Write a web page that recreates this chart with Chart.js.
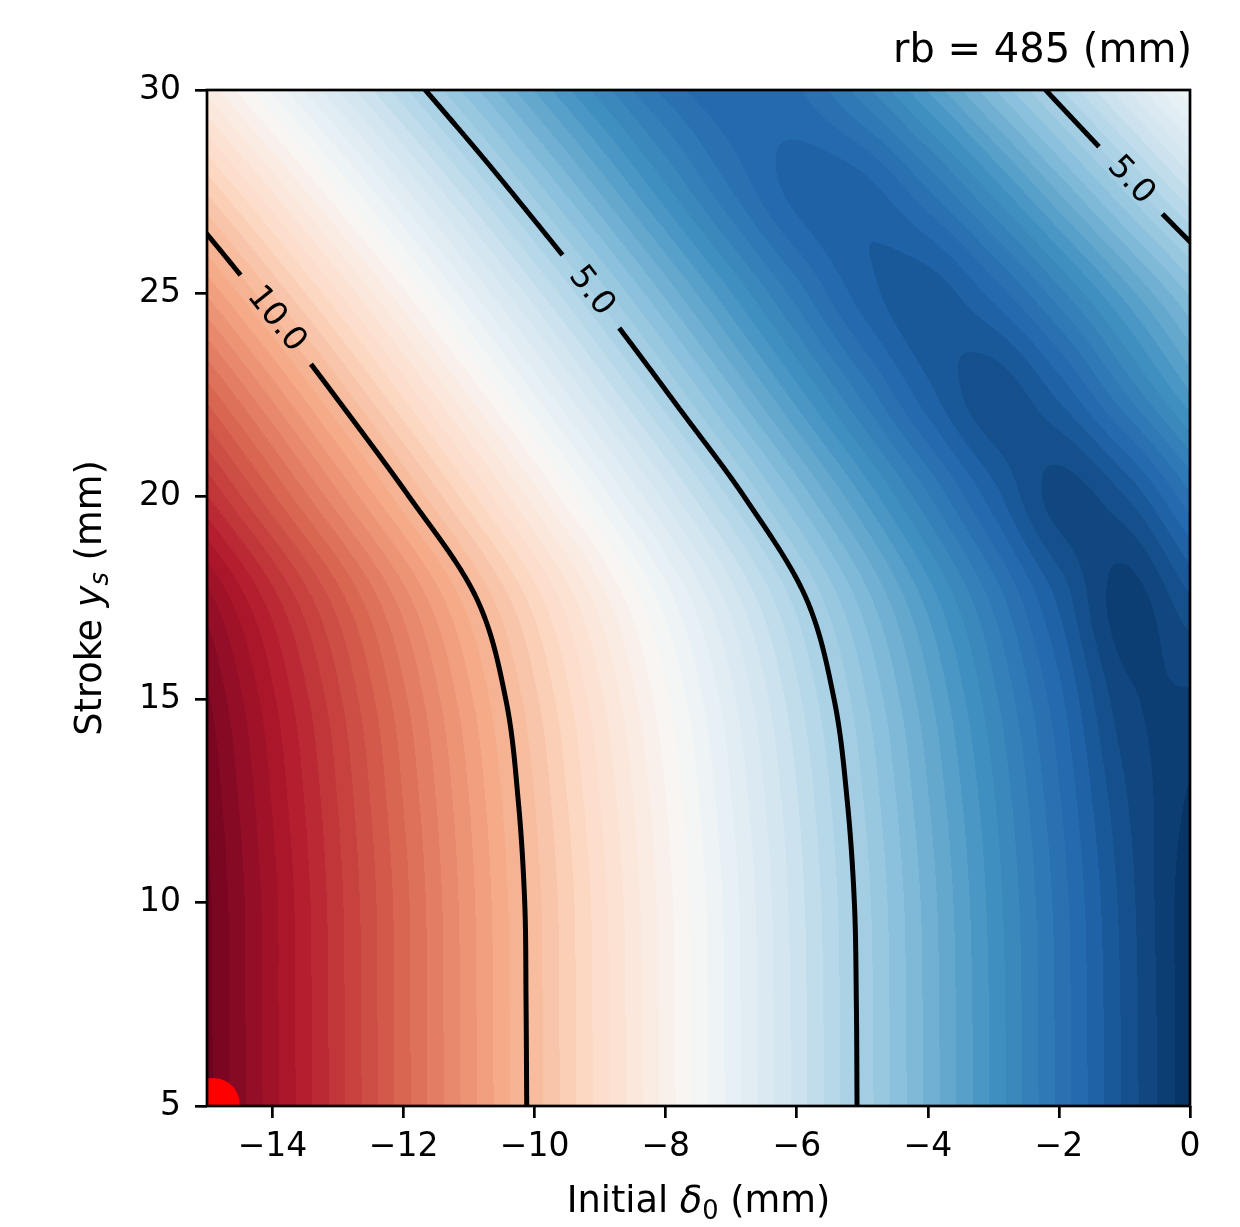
<!DOCTYPE html>
<html>
<head>
<meta charset="utf-8">
<script src="https://cdn.jsdelivr.net/npm/chart.js@4.4.0/dist/chart.umd.min.js"></script>
<style>
  html, body { margin: 0; padding: 0; background: #fff; }
  #wrap { position: relative; width: 1240px; height: 1227px; }
</style>
</head>
<body>
<div id="wrap"><canvas id="chart"></canvas></div>
<script>
// grid columns: initial delta0 (mm), grid rows: stroke ys (mm)
const deltaValues = [-15, -14, -13, -12, -11, -10, -9, -8, -7, -6, -5, -4, -3, -2, -1, 0];
const strokeValues = [5, 7.5, 10, 12.5, 15, 17.5, 20, 22.5, 25, 27.5, 30];

// value per grid node, one row per stroke value
const row05 = [14.84, 13.85, 12.86, 11.86, 10.87, 9.88, 8.89, 7.90, 6.90, 5.91, 4.92, 3.93, 2.94, 1.94, 0.95, 0.05];
const row075 = [14.83, 13.84, 12.85, 11.85, 10.86, 9.87, 8.88, 7.89, 6.89, 5.90, 4.91, 3.92, 2.93, 1.93, 0.94, 0.05];
const row10 = [14.82, 13.83, 12.83, 11.84, 10.84, 9.85, 8.86, 7.86, 6.87, 5.87, 4.88, 3.89, 2.89, 1.90, 0.90, 0.05];
const row125 = [14.73, 13.73, 12.74, 11.74, 10.75, 9.75, 8.75, 7.76, 6.76, 5.77, 4.77, 3.77, 2.78, 1.78, 0.79, 0.20];
const row15 = [14.55, 13.55, 12.56, 11.56, 10.56, 9.56, 8.56, 7.56, 6.57, 5.57, 4.57, 3.57, 2.57, 1.58, 0.59, 0.45];
const row175 = [14.10, 13.10, 12.11, 11.11, 10.11, 9.12, 8.12, 7.12, 6.13, 5.14, 4.14, 3.15, 2.17, 1.19, 0.38, 0.97];
const row20 = [13.02, 12.04, 11.06, 10.08, 9.10, 8.12, 7.14, 6.16, 5.19, 4.21, 3.24, 2.28, 1.36, 0.65, 0.99, 1.94];
const row225 = [11.91, 10.93, 9.94, 8.96, 7.98, 7.00, 6.02, 5.05, 4.08, 3.12, 2.19, 1.34, 0.85, 1.31, 2.22, 3.21];
const row25 = [10.72, 9.74, 8.77, 7.80, 6.82, 5.85, 4.89, 3.94, 3.01, 2.13, 1.38, 1.11, 1.59, 2.41, 3.34, 4.29];
const row275 = [9.47, 8.50, 7.53, 6.57, 5.61, 4.66, 3.73, 2.83, 2.01, 1.41, 1.37, 1.97, 2.82, 3.77, 4.75, 5.74];
const row30 = [8.17, 7.20, 6.25, 5.31, 4.38, 3.48, 2.63, 1.91, 1.51, 1.71, 2.39, 3.27, 4.22, 5.20, 6.20, 7.22];
const fieldRows = [row05, row075, row10, row125, row15, row175, row20, row225, row25, row275, row30];

const contourLevels = [5, 10];
const fillMin = 0, fillMax = 15, fillStep = 0.25;
const xTicks = [-14, -12, -10, -8, -6, -4, -2, 0];
const yTicks = [5, 10, 15, 20, 25, 30];
const markerPoint = [{ x: -14.9, y: 5.05 }];

// where the inline contour labels sit
const labelSpots = [
  { x: -13.92, y: 24.39, level: 10 },
  { x: -9.11, y: 25.08, level: 5 },
  { x: -0.87, y: 27.83, level: 5 }
];

// RdBu reversed (low = blue)
const rdbuR = [[5,48,97],[33,102,172],[67,147,195],[146,197,222],[209,229,240],[247,247,247],[253,219,199],[244,165,130],[214,96,77],[178,24,43],[103,0,31]];
function cmap(t) {
  t = Math.max(0, Math.min(1, t));
  const s = t * 10, i = Math.min(9, Math.floor(s)), f = s - i;
  const a = rdbuR[i], b = rdbuR[i + 1];
  return [Math.round(a[0] + (b[0] - a[0]) * f), Math.round(a[1] + (b[1] - a[1]) * f), Math.round(a[2] + (b[2] - a[2]) * f)];
}
const nBands = Math.round((fillMax - fillMin) / fillStep);
const bandColors = [];
for (let k = 0; k < nBands; k++) bandColors.push(cmap((k + 0.5) / nBands));

// padded grid so the bicubic kernel has neighbours at the borders
const NX = deltaValues.length, NY = strokeValues.length;
const padded = [];
for (let j = 0; j < NY + 2; j++) padded.push(new Float64Array(NX + 2));
for (let j = 0; j < NY; j++) {
  const r = fieldRows[j], p = padded[j + 1];
  for (let i = 0; i < NX; i++) p[i + 1] = r[i];
  p[0] = 2 * r[0] - r[1];
  p[NX + 1] = 2 * r[NX - 1] - r[NX - 2];
}
for (let i = 0; i < NX + 2; i++) {
  padded[0][i] = 2 * padded[1][i] - padded[2][i];
  padded[NY + 1][i] = 2 * padded[NY][i] - padded[NY - 1][i];
}
function cubic(p0, p1, p2, p3, t) {
  return p1 + 0.5 * t * (p2 - p0 + t * (2 * p0 - 5 * p1 + 4 * p2 - p3 + t * (3 * (p1 - p2) + p3 - p0)));
}
const dX = deltaValues[1] - deltaValues[0], dY = strokeValues[1] - strokeValues[0];
function fieldAt(x, y) {
  const fx = (x - deltaValues[0]) / dX, fy = (y - strokeValues[0]) / dY;
  const ix = Math.max(0, Math.min(NX - 2, Math.floor(fx)));
  const iy = Math.max(0, Math.min(NY - 2, Math.floor(fy)));
  const tx = fx - ix, ty = fy - iy;
  const c = [0, 0, 0, 0];
  for (let k = 0; k < 4; k++) {
    const r = padded[iy + k];
    c[k] = cubic(r[ix], r[ix + 1], r[ix + 2], r[ix + 3], tx);
  }
  return cubic(c[0], c[1], c[2], c[3], ty);
}

const FONT = '"DejaVu Sans", sans-serif';
const fmtTick = v => (v < 0 ? '\u2212' + Math.abs(v) : String(v));

function pixField(chart, px, py) {
  return fieldAt(chart.scales.x.getValueForPixel(px), chart.scales.y.getValueForPixel(py));
}

function isoSegments(chart, level, step) {
  const a = chart.chartArea;
  const xs = [], ys = [];
  for (let p = a.left; p < a.right; p += step) xs.push(p);
  xs.push(a.right);
  for (let p = a.top; p < a.bottom; p += step) ys.push(p);
  ys.push(a.bottom);
  const V = ys.map(py => xs.map(px => pixField(chart, px, py)));
  const segs = [];
  const lerp = (p1, p2, v1, v2) => p1 + (p2 - p1) * (level - v1) / (v2 - v1);
  for (let j = 0; j < ys.length - 1; j++) {
    for (let i = 0; i < xs.length - 1; i++) {
      const v0 = V[j][i], v1 = V[j][i + 1], v2 = V[j + 1][i + 1], v3 = V[j + 1][i];
      const pts = [];
      if ((v0 > level) !== (v1 > level)) pts.push([lerp(xs[i], xs[i + 1], v0, v1), ys[j]]);
      if ((v1 > level) !== (v2 > level)) pts.push([xs[i + 1], lerp(ys[j], ys[j + 1], v1, v2)]);
      if ((v3 > level) !== (v2 > level)) pts.push([lerp(xs[i], xs[i + 1], v3, v2), ys[j + 1]]);
      if ((v0 > level) !== (v3 > level)) pts.push([xs[i], lerp(ys[j], ys[j + 1], v0, v3)]);
      if (pts.length === 2) segs.push([pts[0], pts[1]]);
      else if (pts.length === 4) { segs.push([pts[0], pts[3]]); segs.push([pts[1], pts[2]]); }
    }
  }
  return segs;
}

function richWidth(ctx, parts, size) {
  let w = 0;
  for (const p of parts) {
    ctx.font = (p.italic ? 'oblique ' : '') + (p.sub ? size * 0.7 : size) + 'px ' + FONT;
    w += ctx.measureText(p.text).width;
  }
  return w;
}
function drawRich(ctx, parts, size, x, y) {
  for (const p of parts) {
    ctx.font = (p.italic ? 'oblique ' : '') + (p.sub ? size * 0.7 : size) + 'px ' + FONT;
    ctx.fillText(p.text, x, y + (p.sub ? size * 0.2 : 0));
    x += ctx.measureText(p.text).width;
  }
}

const contourPlugin = {
  id: 'contourField',
  beforeDatasetsDraw(chart) {
    const { ctx, chartArea: a, scales } = chart;
    const left = Math.round(a.left), top = Math.round(a.top);
    const w = Math.round(a.right) - left, h = Math.round(a.bottom) - top;
    const off = document.createElement('canvas');
    off.width = w; off.height = h;
    const octx = off.getContext('2d');
    const img = octx.createImageData(w, h);
    const xv = new Float64Array(w);
    for (let i = 0; i < w; i++) xv[i] = scales.x.getValueForPixel(left + i + 0.5);
    for (let j = 0; j < h; j++) {
      const yv = scales.y.getValueForPixel(top + j + 0.5);
      for (let i = 0; i < w; i++) {
        const v = fieldAt(xv[i], yv);
        let k = Math.floor((v - fillMin) / fillStep);
        k = Math.max(0, Math.min(nBands - 1, k));
        const c = bandColors[k], o = (j * w + i) * 4;
        img.data[o] = c[0]; img.data[o + 1] = c[1]; img.data[o + 2] = c[2]; img.data[o + 3] = 255;
      }
    }
    octx.putImageData(img, 0, 0);
    ctx.drawImage(off, left, top);
  },
  afterDatasetsDraw(chart) {
    const { ctx, chartArea: a } = chart;
    const labelSize = 33;
    ctx.save();
    ctx.font = labelSize + 'px ' + FONT;
    // place labels on their line, rotate with the line
    const placed = labelSpots.map(s => {
      let px = chart.scales.x.getPixelForValue(s.x), py = chart.scales.y.getPixelForValue(s.y);
      let gx = 0, gy = 0;
      for (let it = 0; it < 4; it++) {
        const f = pixField(chart, px, py);
        gx = (pixField(chart, px + 1, py) - pixField(chart, px - 1, py)) / 2;
        gy = (pixField(chart, px, py + 1) - pixField(chart, px, py - 1)) / 2;
        const g2 = gx * gx + gy * gy;
        px -= (f - s.level) * gx / g2; py -= (f - s.level) * gy / g2;
      }
      let ang = Math.atan2(-gx, gy);
      if (ang > Math.PI / 2) ang -= Math.PI;
      if (ang < -Math.PI / 2) ang += Math.PI;
      const text = s.level.toFixed(1);
      return { px, py, ang, text, w: ctx.measureText(text).width };
    });
    ctx.beginPath();
    ctx.rect(a.left, a.top, a.right - a.left, a.bottom - a.top);
    for (const l of placed) {
      const hw = l.w / 2 + 20, hh = 22;
      const c = Math.cos(l.ang), s = Math.sin(l.ang);
      const corners = [[-hw, -hh], [hw, -hh], [hw, hh], [-hw, hh]].map(([u, v]) => [l.px + u * c - v * s, l.py + u * s + v * c]);
      ctx.moveTo(corners[0][0], corners[0][1]);
      for (let k = 1; k < 4; k++) ctx.lineTo(corners[k][0], corners[k][1]);
      ctx.closePath();
    }
    ctx.clip('evenodd');
    ctx.strokeStyle = '#000';
    ctx.lineWidth = 5;
    ctx.lineCap = 'round';
    ctx.lineJoin = 'round';
    for (const level of contourLevels) {
      const segs = isoSegments(chart, level, 2);
      ctx.beginPath();
      for (const [p, q] of segs) { ctx.moveTo(p[0], p[1]); ctx.lineTo(q[0], q[1]); }
      ctx.stroke();
    }
    ctx.restore();

    ctx.save();
    ctx.fillStyle = '#000';
    ctx.font = labelSize + 'px ' + FONT;
    ctx.textAlign = 'center';
    ctx.textBaseline = 'middle';
    for (const l of placed) {
      ctx.save();
      ctx.translate(l.px, l.py);
      ctx.rotate(l.ang);
      ctx.fillText(l.text, 0, 0);
      ctx.restore();
    }
    ctx.restore();

    // axes frame
    ctx.save();
    ctx.strokeStyle = '#000';
    ctx.lineWidth = 2.7;
    ctx.strokeRect(a.left, a.top, a.right - a.left, a.bottom - a.top);
    ctx.restore();
  },
  afterDraw(chart) {
    const { ctx, chartArea: a } = chart;
    ctx.save();
    ctx.fillStyle = '#000';
    ctx.textBaseline = 'alphabetic';
    const titleParts = [{ text: 'rb = 485 (mm)' }];
    const tw = richWidth(ctx, titleParts, 40);
    drawRich(ctx, titleParts, 40, a.right + 2 - tw, 62);

    const xParts = [{ text: 'Initial ' }, { text: '\u03b4', italic: true }, { text: '0', sub: true }, { text: ' (mm)' }];
    const xw = richWidth(ctx, xParts, 36.7);
    drawRich(ctx, xParts, 36.7, (a.left + a.right) / 2 - xw / 2, 1212);

    const yParts = [{ text: 'Stroke ' }, { text: 'y', italic: true }, { text: 's', italic: true, sub: true }, { text: ' (mm)' }];
    const yw = richWidth(ctx, yParts, 36.7);
    ctx.translate(101, (a.top + a.bottom) / 2);
    ctx.rotate(-Math.PI / 2);
    drawRich(ctx, yParts, 36.7, -yw / 2, 0);
    ctx.restore();
  }
};

new Chart(document.getElementById('chart'), {
  type: 'scatter',
  data: {
    datasets: [{
      data: markerPoint,
      pointRadius: 26,
      pointHoverRadius: 26,
      backgroundColor: '#ff0000',
      borderWidth: 0,
      clip: 0
    }]
  },
  options: {
    responsive: true,
    maintainAspectRatio: false,
    animation: false,
    events: [],
    layout: { padding: { top: 90, right: 50, left: 0, bottom: 0 } },
    plugins: { legend: { display: false }, tooltip: { enabled: false } },
    scales: {
      x: {
        type: 'linear', min: -15, max: 0,
        afterBuildTicks: s => { s.ticks = xTicks.map(v => ({ value: v })); },
        afterFit: s => { s.height = 121; },
        grid: { drawOnChartArea: false, tickLength: 12, color: '#000', lineWidth: 2.7 },
        border: { display: false },
        ticks: { autoSkip: false, maxRotation: 0, padding: 10, color: '#000', font: { family: FONT, size: 33 }, callback: v => fmtTick(v) }
      },
      y: {
        type: 'linear', min: 5, max: 30,
        afterBuildTicks: s => { s.ticks = yTicks.map(v => ({ value: v })); },
        afterFit: s => { s.width = 207; },
        grid: { drawOnChartArea: false, tickLength: 12, color: '#000', lineWidth: 2.7 },
        border: { display: false },
        ticks: { autoSkip: false, padding: 14, color: '#000', font: { family: FONT, size: 33 }, callback: v => fmtTick(v) }
      }
    }
  },
  plugins: [contourPlugin]
});
</script>
</body>
</html>
